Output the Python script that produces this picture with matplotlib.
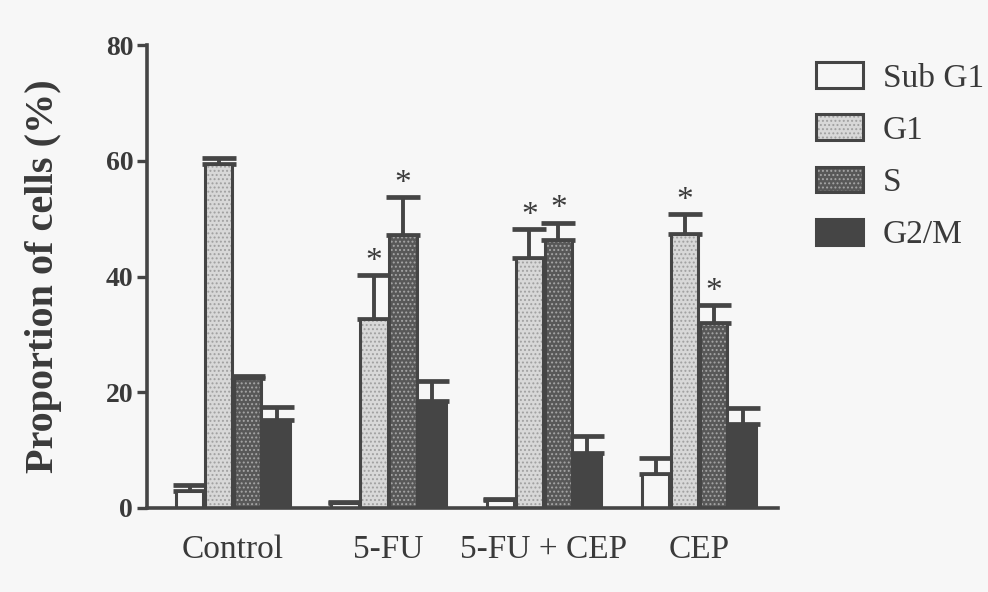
import numpy as np
import matplotlib
matplotlib.use("Agg")
import matplotlib.pyplot as plt
from matplotlib.legend_handler import HandlerTuple

# ---- data ----
groups = ["Control", "5-FU", "5-FU + CEP", "CEP"]
phases = ["Sub G1", "G1", "S", "G2/M"]
sub_g1 = [3.0, 0.8, 1.3, 5.8]
g1 = [59.5, 32.7, 43.2, 47.3]
s_phase = [22.5, 47.2, 46.3, 32.0]
g2m = [15.2, 18.5, 9.5, 14.5]
err_sub_g1 = [1.0, 0.2, 0.3, 2.8]
err_g1 = [1.0, 7.5, 5.0, 3.5]
err_s = [0.3, 6.5, 3.0, 3.0]
err_g2m = [2.2, 3.5, 3.0, 2.7]
star_sub_g1 = [False, False, False, False]
star_g1 = [False, True, True, True]
star_s = [False, True, True, True]
star_g2m = [False, False, False, False]
y_ticks = [0, 20, 40, 60, 80]

values = [sub_g1, g1, s_phase, g2m]
errors = [err_sub_g1, err_g1, err_s, err_g2m]
stars = [star_sub_g1, star_g1, star_s, star_g2m]

DARK = "#454545"
BG = "#f7f7f7"
TXT = "#3a3a3a"
# (facecolor, hatch, hatchcolor)
styles = [
    (BG, None, None),
    ("#d8d8d8", "....", "#a0a0a0"),
    ("#585858", "....", "#a6a6a6"),
    (DARK, None, None),
]

plt.rcParams["font.family"] = ["Liberation Serif", "DejaVu Serif"]
plt.rcParams["hatch.linewidth"] = 0.9

fig = plt.figure(figsize=(9.88, 5.92), dpi=100, facecolor=BG)
ax = fig.add_axes([0.1488, 0.1419, 0.639, 0.782])
ax.set_facecolor(BG)

x = np.arange(len(groups))
slot = 0.1867
width = 0.176
offsets = (np.arange(4) - 1.5) * slot

handles = []
for i in range(4):
    fc, hatch, hc = styles[i]
    xs = x + offsets[i]
    ax.errorbar(xs, values[i], yerr=[np.zeros(4), errors[i]], fmt="none",
                ecolor=DARK, elinewidth=2.8, capsize=12, capthick=3.4, zorder=1)
    if hatch:
        b1 = ax.bar(xs, values[i], width, color=fc, edgecolor=hc, hatch=hatch,
                    linewidth=0, zorder=2)
    else:
        b1 = ax.bar(xs, values[i], width, color=fc, linewidth=0, zorder=2)
    b2 = ax.bar(xs, values[i], width, fill=False, edgecolor=DARK,
                linewidth=2.2, zorder=3)
    handles.append((b1[0], b2[0]))
    for j in range(4):
        if stars[i][j]:
            ax.text(xs[j], values[i][j] + errors[i][j] + 0.9, "*",
                    ha="center", va="baseline", fontsize=24, color=TXT)

ax.set_xlim(-0.554, 3.51)
ax.set_ylim(0, 80)
ax.set_yticks(y_ticks)
ax.set_yticklabels([str(t) for t in y_ticks], fontsize=20, fontweight="bold",
                   color=TXT)
ax.set_xticks(x)
ax.set_xticklabels(groups, fontsize=24, color=TXT)
ax.tick_params(axis="x", length=0, pad=19)
ax.tick_params(axis="y", length=7, width=2.4, color=DARK, pad=3)
for side in ["top", "right"]:
    ax.spines[side].set_visible(False)
for side in ["left", "bottom"]:
    ax.spines[side].set_linewidth(2.6)
    ax.spines[side].set_color(DARK)

ax.set_ylabel("Proportion of cells (%)", fontsize=29, fontweight="bold",
              color=TXT, labelpad=31)

leg = fig.legend(handles, phases, handler_map={tuple: HandlerTuple(ndivide=1)},
                 loc="upper left", bbox_to_anchor=(0.826, 0.895), frameon=False,
                 fontsize=24, handlelength=1.4, handleheight=0.82,
                 handletextpad=0.6, labelspacing=0.62, borderpad=0,
                 borderaxespad=0)
for t in leg.get_texts():
    t.set_color(TXT)

fig.savefig("out.png", dpi=100, facecolor=BG)
